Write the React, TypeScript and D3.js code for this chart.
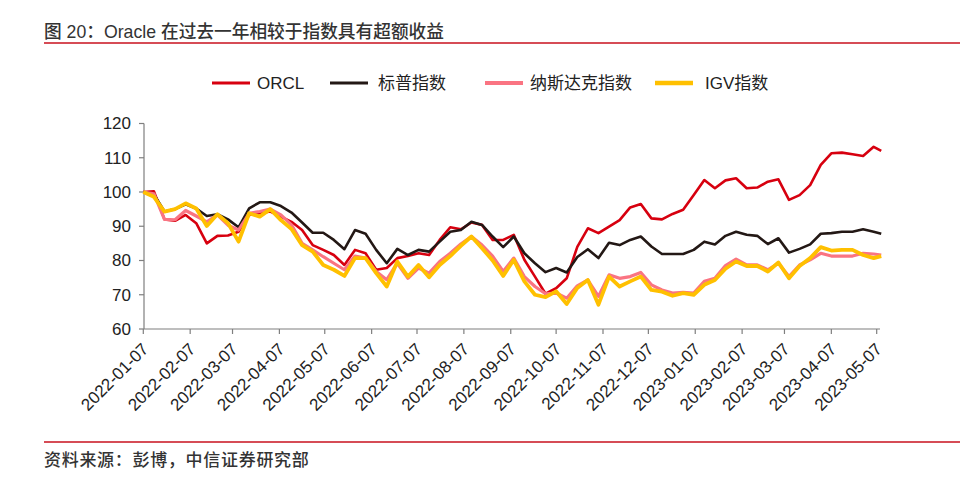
import React from "react";
import * as d3 from "d3";

const dates: string[] = [
  "2022-01-07","2022-01-14","2022-01-21","2022-01-28","2022-02-04","2022-02-11","2022-02-18","2022-02-25",
  "2022-03-04","2022-03-11","2022-03-18","2022-03-25","2022-04-01","2022-04-08","2022-04-15","2022-04-22",
  "2022-04-29","2022-05-06","2022-05-13","2022-05-20","2022-05-27","2022-06-03","2022-06-10","2022-06-17",
  "2022-06-24","2022-07-01","2022-07-08","2022-07-15","2022-07-22","2022-07-29","2022-08-05","2022-08-12",
  "2022-08-19","2022-08-26","2022-09-02","2022-09-09","2022-09-16","2022-09-23","2022-09-30","2022-10-07",
  "2022-10-14","2022-10-21","2022-10-28","2022-11-04","2022-11-11","2022-11-18","2022-11-25","2022-12-02",
  "2022-12-09","2022-12-16","2022-12-23","2022-12-30","2023-01-06","2023-01-13","2023-01-20","2023-01-27",
  "2023-02-03","2023-02-10","2023-02-17","2023-02-24","2023-03-03","2023-03-10","2023-03-17","2023-03-24",
  "2023-03-31","2023-04-07","2023-04-14","2023-04-21","2023-04-28","2023-05-05","2023-05-10"
];

const orcl: number[] = [
  100,100.2,92,91.6,93.3,90.9,85,87.2,87.3,88.4,93.3,93.8,94.3,92.8,91.3,88.9,
  84.5,83.1,81.6,78.7,83.1,82.1,77.3,77.8,80.7,81.3,82.1,81.6,86.0,89.7,89.1,91.1,
  90.4,86.0,86.0,87.5,80.2,75.3,70.3,71.9,74.8,84,89.4,88.0,89.9,91.8,95.5,96.5,
  92.3,92.0,93.6,94.8,99.1,103.5,101.1,103.4,104.0,101.1,101.3,103.0,103.7,97.7,99.1,102.0,
  107.9,111.3,111.5,111.0,110.5,113.2,112.0
];

const spx: number[] = [
  100,99.4,94.3,95,96.4,95.2,93,93.5,92,89.7,95.2,97,97,95.9,94,91.1,
  88.1,88.1,86.0,83.3,88.9,87.8,83.1,79.2,83.4,81.6,83.1,82.6,85.5,88.4,88.9,91.3,
  90.4,87.0,83.9,87.0,82.1,79.2,76.6,77.8,76.5,81,83.3,80.7,85.2,84.5,86.0,87.0,
  84.1,81.9,81.9,81.9,83.1,85.5,84.7,87.2,88.4,87.5,87.2,84.8,86.5,82.3,83.4,84.7,
  87.8,88.0,88.4,88.4,89.1,88.4,87.8
];

const nasdaq: number[] = [
  100,99.5,92,91.9,94.6,93,91.3,93.3,90.3,88.9,93.8,94.3,95,93.3,90.4,85.0,
  83.1,81.1,79.2,77.3,81.3,80.7,76.8,74.4,79.2,74.8,77.8,76.3,79.7,82.1,84.8,87.0,
  84.5,81.3,76.8,80.7,75.3,72.4,70.3,70.5,69.0,72.6,74.3,69.5,75.8,74.8,75.3,76.5,
  72.9,71.4,70.5,70.7,70.5,73.9,74.8,78.5,80.4,78.7,78.7,77.3,79.2,75.3,78.7,80.2,
  82.1,81.3,81.3,81.3,82.1,81.9,81.6
];

const igv: number[] = [
  100,98.6,94.3,95,96.7,95.2,90.1,93.5,90.9,85.5,93.8,92.8,95,91.8,89.2,84.5,
  82.6,78.7,77.3,75.5,80.7,80.7,76.3,72.4,79.7,75.3,78.7,75.1,78.7,81.3,84.3,87.0,
  83.6,80.0,75.5,80.2,73.9,70.0,69.3,71.0,67.3,72,74.3,67.1,75.3,72.4,73.9,75.3,
  71.4,70.9,69.7,70.5,70.0,72.9,74.3,77.6,79.7,78.4,78.4,76.8,79.4,74.8,78.4,80.7,
  83.9,82.9,83.1,83.1,81.6,80.7,81.3
];

const seriesNames: string[] = ["ORCL", "标普指数", "纳斯达克指数", "IGV指数"];
const seriesColors: string[] = ["#d7000f", "#231815", "#fa7482", "#ffc000"];
const seriesWidths: number[] = [2.6, 2.6, 3.2, 3.8];
const xTickLabels: string[] = [
  "2022-01-07","2022-02-07","2022-03-07","2022-04-07","2022-05-07","2022-06-07","2022-07-07",
  "2022-08-07","2022-09-07","2022-10-07","2022-11-07","2022-12-07","2023-01-07","2023-02-07",
  "2023-03-07","2023-04-07","2023-05-07"
];
const yTicks: number[] = [60, 70, 80, 90, 100, 110, 120];

const title = "图 20：Oracle 在过去一年相较于指数具有超额收益";
const source = "资料来源：彭博，中信证券研究部";

const parse = d3.utcParse("%Y-%m-%d");

export default function App() {
  const W = 960, H = 504;
  const x = d3.scaleUtc()
    .domain([parse("2022-01-07")!, parse("2023-05-07")!])
    .range([143.3, 876.7]);
  const y = d3.scaleLinear().domain([60, 120]).range([329, 123.5]);
  const allSeries = [orcl, spx, nasdaq, igv];
  const line = d3.line<number>()
    .x((_, i) => x(parse(dates[i])!))
    .y((d) => y(d))
    .curve(d3.curveLinear);
  const font = "'Liberation Sans', Arial, 'Noto Sans CJK SC', sans-serif";
  const legendLine = [212, 330, 485, 655];
  const legendText = [257, 378, 530, 705];
  const textColor = "#222";
  return (
    <svg width={W} height={H} style={{ position: "absolute", left: 0, top: 0, background: "#fff" }} fontFamily={font}>
      <rect x={0} y={0} width={W} height={H} fill="#fff" />
      <text x={44} y={38} fontSize={17.7} fill="#333" fontWeight={500}>{title}</text>
      <line x1={44} x2={960} y1={43} y2={43} stroke="#c8101e" strokeWidth={1.5} />
      {seriesNames.map((n, i) => (
        <g key={n}>
          <line x1={legendLine[i]} x2={legendLine[i] + 38} y1={83} y2={83} stroke={seriesColors[i]} strokeWidth={seriesWidths[i] + 0.6} />
          <text x={legendText[i]} y={89} fontSize={17} fill={textColor}>{n}</text>
        </g>
      ))}
      <line x1={144} x2={144} y1={123.5} y2={329} stroke="#7f7f7f" strokeWidth={1.2} />
      {yTicks.map((t) => (
        <g key={t}>
          <line x1={139} x2={144} y1={y(t)} y2={y(t)} stroke="#7f7f7f" strokeWidth={1.2} />
          <text x={131} y={y(t)} dy="0.35em" textAnchor="end" fontSize={17} fill={textColor}>{t}</text>
        </g>
      ))}
      <line x1={144} x2={880} y1={329} y2={329} stroke="#7f7f7f" strokeWidth={1.2} />
      {xTickLabels.map((t) => {
        const xx = x(parse(t)!);
        return (
          <g key={t}>
            <line x1={xx} x2={xx} y1={329} y2={334} stroke="#7f7f7f" strokeWidth={1.2} />
            <text transform={`translate(${xx + 2},${346}) rotate(-45)`} textAnchor="end" dy="0.35em" fontSize={17} fill={textColor}>{t}</text>
          </g>
        );
      })}
      {allSeries.map((s, i) => (
        <path key={i} d={line(s) || ""} fill="none" stroke={seriesColors[i]} strokeWidth={seriesWidths[i]} strokeLinejoin="round" />
      ))}
      <line x1={44} x2={960} y1={442} y2={442} stroke="#c8101e" strokeWidth={1.5} />
      <text x={44} y={466} fontSize={17} fill="#333" letterSpacing={0.7} fontFamily="'Noto Sans CJK SC', sans-serif" fontWeight={500}>{source}</text>
    </svg>
  );
}
